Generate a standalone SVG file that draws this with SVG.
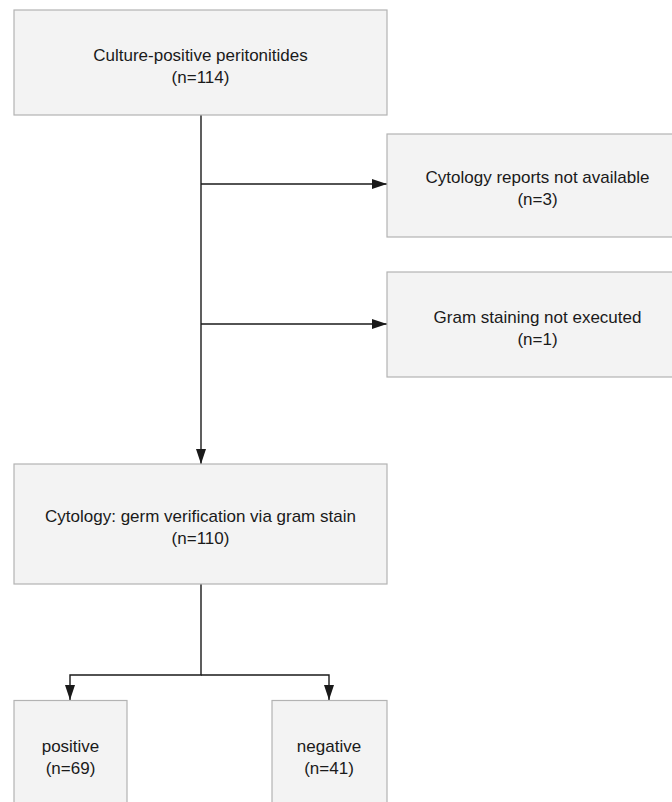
<svg xmlns="http://www.w3.org/2000/svg" width="672" height="802" viewBox="0 0 672 802">
<style>
.box{fill:#f3f3f3;stroke:#b3b3b3;stroke-width:1.2}
.t{font-family:"Liberation Sans",Arial,sans-serif;font-size:17px;fill:#1a1a1a;text-anchor:middle}
.c{fill:none;stroke:#1a1a1a;stroke-width:1.4}
</style>
<defs>
<marker id="ah" viewBox="0 0 15 10" refX="15" refY="5" markerWidth="15" markerHeight="10" markerUnits="userSpaceOnUse" orient="auto">
<path d="M0,0 L15,5 L0,10 Z" fill="#1a1a1a"/>
</marker>
</defs>
<rect width="672" height="802" fill="#ffffff"/>
<g id="connectors">
<path class="c" d="M201,115 V464" marker-end="url(#ah)"/>
<path class="c" d="M201,184 H387" marker-end="url(#ah)"/>
<path class="c" d="M201,324 H387" marker-end="url(#ah)"/>
<path class="c" d="M201,584 V675 H70 V700" marker-end="url(#ah)"/>
<path class="c" d="M201,675 H329 V700" marker-end="url(#ah)"/>
</g>
<g id="n1">
<rect class="box" x="14" y="10" width="373" height="105"/>
<text class="t" x="200.5" y="60.5">Culture-positive peritonitides</text>
<text class="t" x="200.5" y="82.5">(n=114)</text>
</g>
<g id="n2">
<rect class="box" x="387" y="134" width="300" height="103"/>
<text class="t" x="537.5" y="182.5">Cytology reports not available</text>
<text class="t" x="537.5" y="205">(n=3)</text>
</g>
<g id="n3">
<rect class="box" x="387" y="272" width="300" height="105"/>
<text class="t" x="537.5" y="322.5">Gram staining not executed</text>
<text class="t" x="537.5" y="344.5">(n=1)</text>
</g>
<g id="n4">
<rect class="box" x="14" y="464" width="373" height="120"/>
<text class="t" x="200.5" y="522">Cytology: germ verification via gram stain</text>
<text class="t" x="200.5" y="543.5">(n=110)</text>
</g>
<g id="n5">
<rect class="box" x="14" y="700.5" width="113" height="120"/>
<text class="t" x="70.5" y="752">positive</text>
<text class="t" x="70.5" y="773.5">(n=69)</text>
</g>
<g id="n6">
<rect class="box" x="272" y="700.5" width="115" height="120"/>
<text class="t" x="329" y="752">negative</text>
<text class="t" x="329" y="773.5">(n=41)</text>
</g>
</svg>
